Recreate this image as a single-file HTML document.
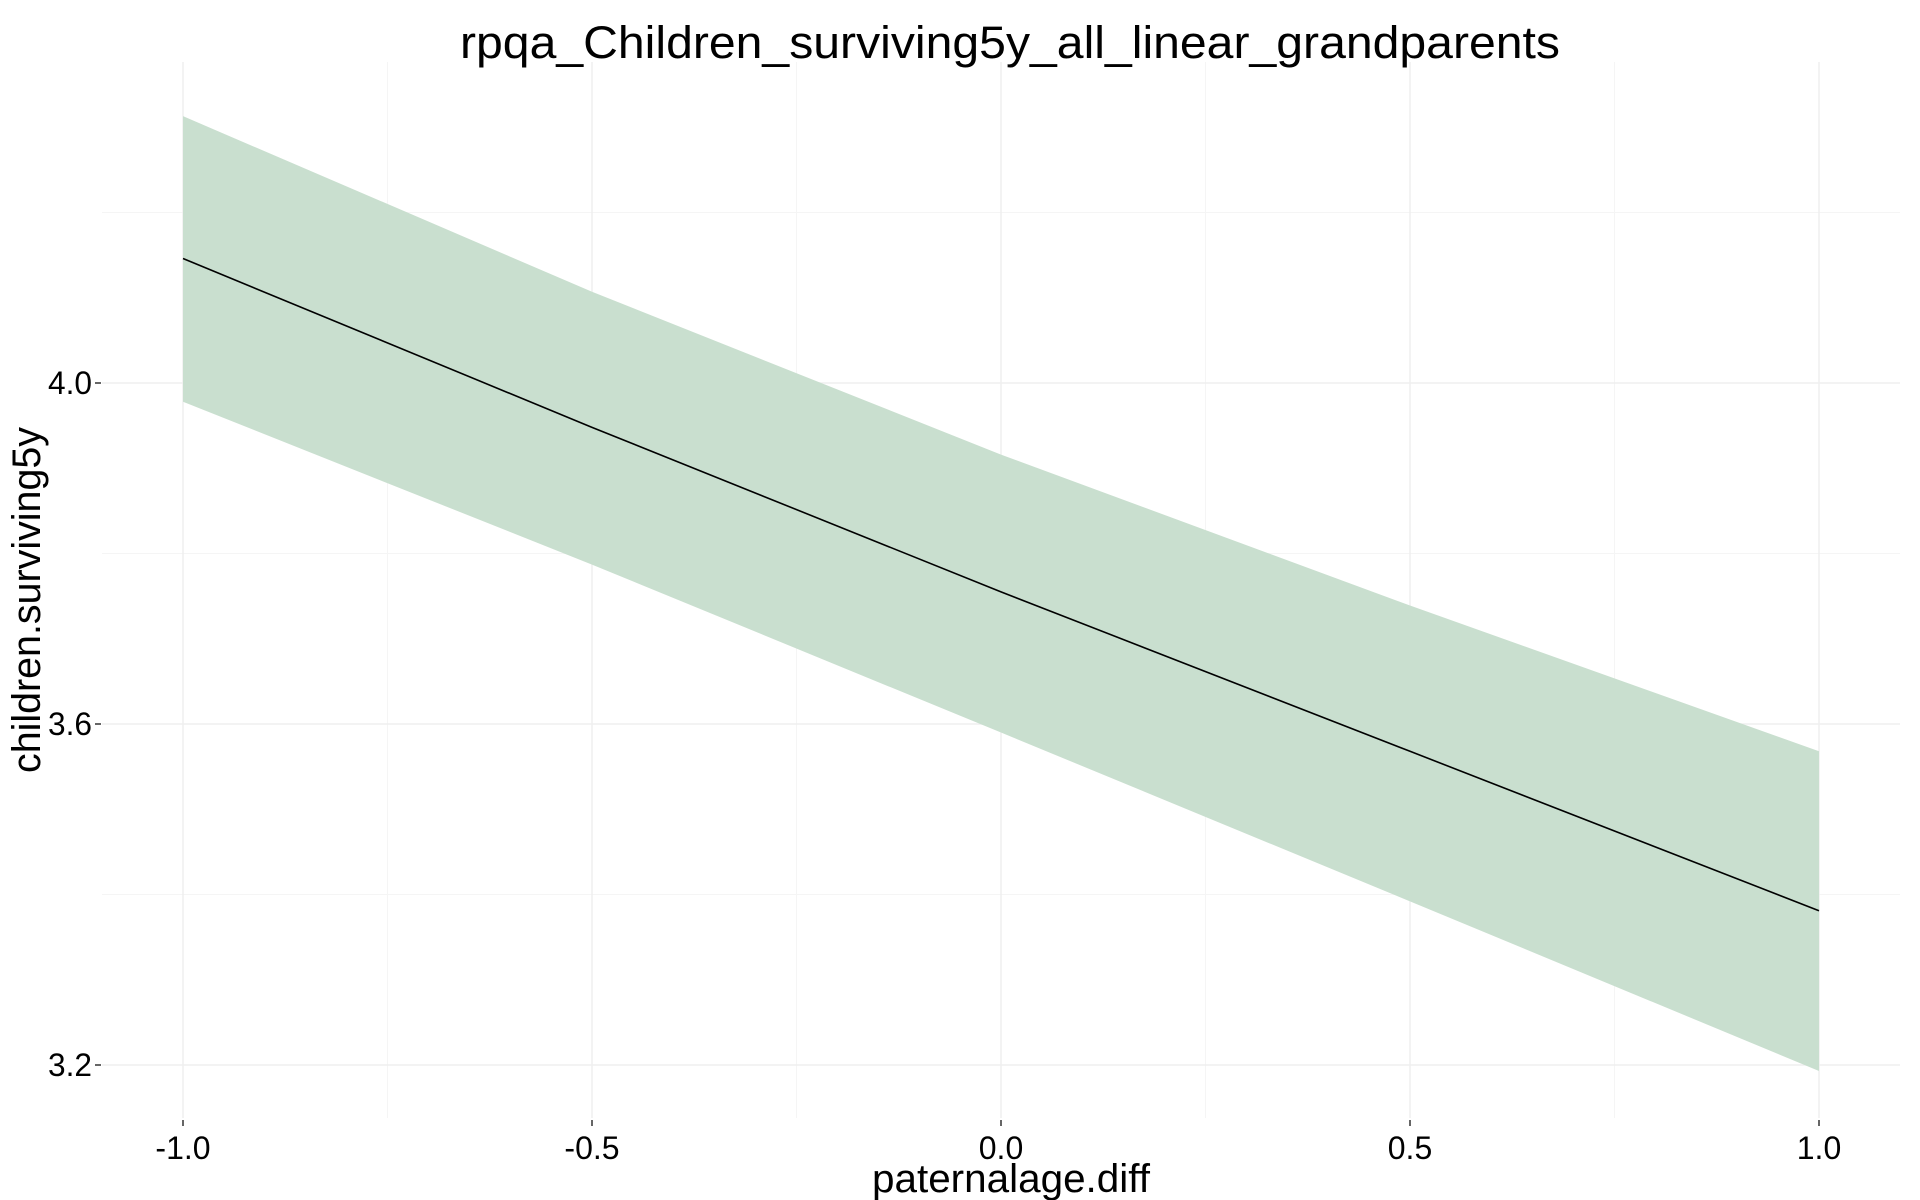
<!DOCTYPE html>
<html><head><meta charset="utf-8"><style>
html,body{margin:0;padding:0;background:#fff;}
svg{display:block;font-family:"Liberation Sans",Arial,sans-serif;}
</style></head><body>
<svg id="chart" width="1920" height="1200" viewBox="0 0 1920 1200" xmlns="http://www.w3.org/2000/svg">
<rect width="1920" height="1200" fill="#fff"/>
<g id="grid"></g>
<g id="marks"></g>
<g id="axes"></g>
<text x="1010" y="58" font-size="45" text-anchor="middle" textLength="1100" lengthAdjust="spacingAndGlyphs">rpqa_Children_surviving5y_all_linear_grandparents</text>
<text x="1011" y="1192" font-size="40" text-anchor="middle" textLength="278" lengthAdjust="spacingAndGlyphs">paternalage.diff</text>
<text transform="translate(40,600) rotate(-90)" font-size="40" text-anchor="middle" textLength="346" lengthAdjust="spacingAndGlyphs">children.surviving5y</text>
</svg>
<script>
const xValues = [-1, -0.5, 0, 0.5, 1];
const fitValues = [4.146, 3.948, 3.755, 3.568, 3.381];
const upperValues = [4.313, 4.107, 3.916, 3.739, 3.568];
const lowerValues = [3.978, 3.787, 3.590, 3.392, 3.193];
const xTicks = [-1, -0.5, 0, 0.5, 1];
const xTickLabels = ["-1.0", "-0.5", "0.0", "0.5", "1.0"];
const xMinor = [-0.75, -0.25, 0.25, 0.75];
const yTicks = [3.2, 3.6, 4.0];
const yTickLabels = ["3.2", "3.6", "4.0"];
const yMinor = [3.4, 3.8, 4.2];

const NS = "http://www.w3.org/2000/svg";
const X0 = 183, X1 = 1819, PL = 102, PR = 1900, PT = 62, PB = 1118;
function sx(v){ return X0 + (v - (-1)) / 2 * (X1 - X0); }
function sy(v){ return 383 - (v - 4.0) * 852.5; }
function mk(tag, attrs, parent){ const e = document.createElementNS(NS, tag); for (const k in attrs) e.setAttribute(k, attrs[k]); parent.appendChild(e); return e; }
const grid = document.getElementById('grid'), marks = document.getElementById('marks'), axes = document.getElementById('axes');

xMinor.forEach(v => { const l = mk('line', {x1:sx(v), x2:sx(v), y1:PT, y2:PB, stroke:'#f5f5f5', 'stroke-width':1}, grid);
  
   });
yMinor.forEach(v => { const l = mk('line', {x1:PL, x2:PR, y1:sy(v), y2:sy(v), stroke:'#f5f5f5', 'stroke-width':1}, grid);
  
   });
xTicks.forEach(v => { const l = mk('line', {x1:sx(v), x2:sx(v), y1:PT, y2:PB, stroke:'#efefef', 'stroke-width':1.5}, grid);
  
   });
yTicks.forEach(v => { const l = mk('line', {x1:PL, x2:PR, y1:sy(v), y2:sy(v), stroke:'#efefef', 'stroke-width':1.5}, grid);
  
   });

let pts = xValues.map((x,i) => sx(x) + ',' + sy(upperValues[i]));
for (let i = xValues.length - 1; i >= 0; i--) pts.push(sx(xValues[i]) + ',' + sy(lowerValues[i]));
const band = mk('polygon', {points: pts.join(' '), fill:'#c9dfcf'}, marks);


const line = mk('polyline', {points: xValues.map((x,i) => sx(x) + ',' + sy(fitValues[i])).join(' '), fill:'none', stroke:'#000', 'stroke-width':1.6}, marks);



xTicks.forEach((v,i) => {
  const t = mk('line', {x1:sx(v), x2:sx(v), y1:PB+2, y2:PB+8, stroke:'#333', 'stroke-width':1.5}, axes);
  
  
  const lb = mk('text', {x:sx(v), y:1159, 'font-size':32, 'text-anchor':'middle', fill:'#000'}, axes);
  lb.textContent = xTickLabels[i];
  
  
});
yTicks.forEach((v,i) => {
  const t = mk('line', {x1:PL-7, x2:PL-1, y1:sy(v), y2:sy(v), stroke:'#333', 'stroke-width':1.5}, axes);
  
  
  const lb = mk('text', {x:PL-10, y:sy(v)+11, 'font-size':32, 'text-anchor':'end', textLength:44, lengthAdjust:'spacingAndGlyphs', fill:'#000'}, axes);
  lb.textContent = yTickLabels[i];
  
  
});
</script>
</body></html>
